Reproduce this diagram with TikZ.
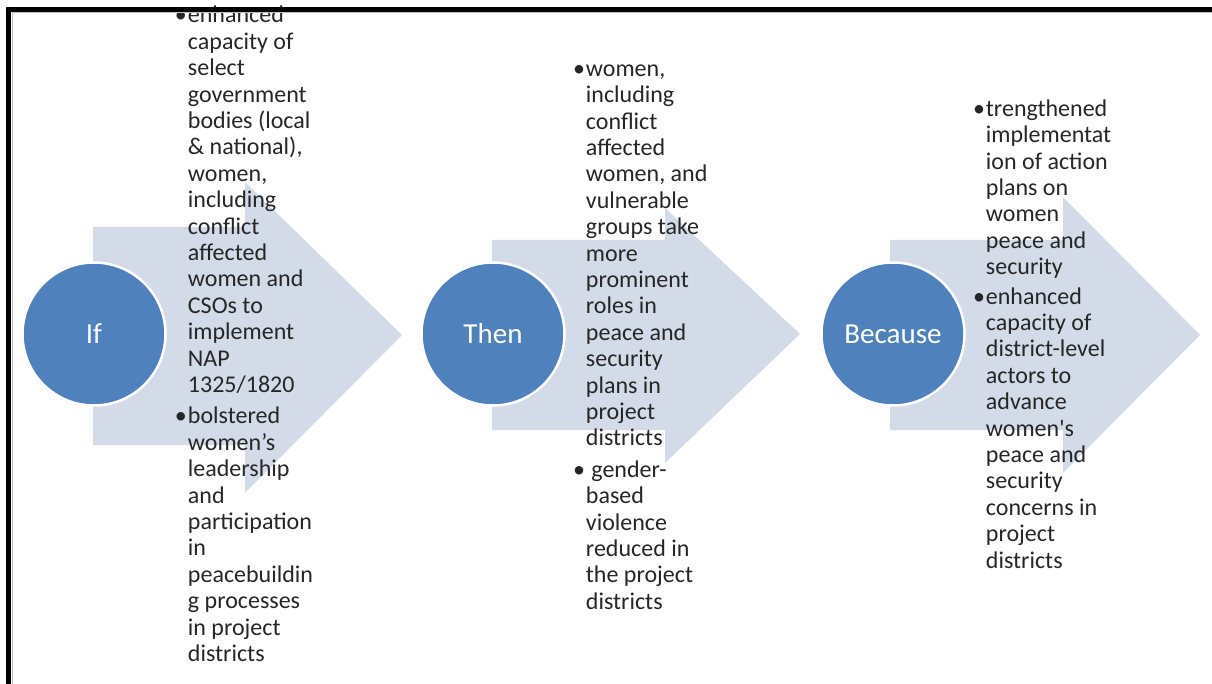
\documentclass[tikz,border=0pt]{standalone}
\usepackage{fontspec}
\setmainfont{Carlito}
\usetikzlibrary{positioning}
\definecolor{stageblue}{HTML}{4F81BD}
\definecolor{arrowfill}{RGB}{211,218,232}
\tikzset{
  stage/.style={circle, fill=stageblue, draw=white, line width=2.5pt, minimum size=143pt,
    inner sep=0pt, text=white, font=\fontsize{29}{32}\selectfont},
  points/.style={align=left, inner sep=0pt, text=black!85, font=\fontsize{24}{26.4}\selectfont}
}
\def\bul{\llap{\textbullet\hspace{1pt}}}

\begin{document}
\begin{tikzpicture}[x=1pt,y=-1pt]
	%%%%% START %%%%%
	\useasboundingbox (0,0) rectangle (1212,684);
	
	% the three block arrows
	\fill[arrowfill] (93,227) -- (245,227) -- (245,182) -- (402,335) -- (245,493) -- (245,445) -- (93,445) -- cycle;
	\fill[arrowfill] (492,240) -- (665,240) -- (665,208) -- (800,334) -- (665,463) -- (665,430) -- (492,430) -- cycle;
	\fill[arrowfill] (890,240) -- (1063,240) -- (1063,197) -- (1200,335) -- (1063,473) -- (1063,430) -- (890,430) -- cycle;
	
	% stages
	\node[stage] (ifc) at (94,334) {If};
	\node[stage] (thenc) at (493,334) {Then};
	\node[stage] (becausec) at (893,334) {Because};
	
	% bullet lists
	\node[points, right=21pt of ifc] (ifpts) {\bul enhanced\\ capacity of\\ select\\ government\\ bodies (local\\ \& national),\\ women,\\ including\\ conflict\\ affected\\ women and\\ CSOs to\\ implement\\ NAP\\ 1325/1820\\[5pt]
		\bul bolstered\\ women’s\\ leadership\\ and\\ participation\\ in\\ peacebuildin\\ g processes\\ in project\\ districts};
	\node[points, right=20pt of thenc, yshift=-3pt] (thenpts) {\bul women,\\ including\\ conflict\\ affected\\ women, and\\ vulnerable\\ groups take\\ more\\ prominent\\ roles in\\ peace and\\ security\\ plans in\\ project\\ districts\\[5pt]
		\bul\ gender-\\ based\\ violence\\ reduced in\\ the project\\ districts};
	\node[points, right=20pt of becausec] (becausepts) {\bul trengthened\\ implementat\\ ion of action\\ plans on\\ women\\ peace and\\ security\\[3pt]
		\bul enhanced\\ capacity of\\ district-level\\ actors to\\ advance\\ women\textquotesingle s\\ peace and\\ security\\ concerns in\\ project\\ districts};
	
	% frame
	\draw[black!25, line width=1pt] (12,684) -- (12,13) -- (1212,13);
	\draw[line width=5pt, line join=miter] (8.5,684) -- (8.5,9.5) -- (1212,9.5);
	%%%%% END %%%%%
\end{tikzpicture}
\end{document}
